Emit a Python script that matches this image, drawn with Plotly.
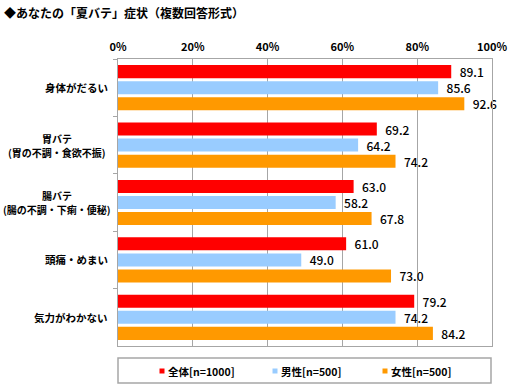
import plotly.graph_objects as go

categories = ["身体がだるい", "胃バテ<br>(胃の不調・食欲不振)", "腸バテ<br>(腸の不調・下痢・便秘)", "頭痛・めまい", "気力がわかない"]
series_names = ["全体[n=1000]", "男性[n=500]", "女性[n=500]"]
all_vals = [89.1, 69.2, 63.0, 61.0, 79.2]
male_vals = [85.6, 64.2, 58.2, 49.0, 74.2]
female_vals = [92.6, 74.2, 67.8, 73.0, 84.2]
colors = ["#FF0000", "#99CCFF", "#FF9900"]
x_ticks = [0, 20, 40, 60, 80, 100]
x_tick_labels = ["0%", "20%", "40%", "60%", "80%", "100%"]

FONT = "Noto Sans CJK JP"
PW, PH = 374, 287  # plot area size in px
L, T = 118, 59

def px_x(x):
    return (x - L) / PW

def px_y(y):
    return (T + PH - y) / PH

fig = go.Figure()
for name, vals, col in zip(series_names, [all_vals, male_vals, female_vals], colors):
    fig.add_trace(go.Bar(
        y=categories, x=vals, name=name, orientation="h",
        marker=dict(color=col, line=dict(width=0)),
        text=[f"{v:.1f}" for v in vals], textposition="outside",
        texttemplate="  %{text}", constraintext="none",
        textfont=dict(family=FONT, size=12, color="#000000", weight=500),
        cliponaxis=False, showlegend=False, hoverinfo="skip",
    ))

# category labels (multi-line labels centered, 14px line spacing)
for c in categories:
    lines = c.split("<br>")
    n = len(lines)
    for i, ln in enumerate(lines):
        # center of each line: first line rightmost anchor is the widest line's right edge
        fig.add_annotation(
            x=px_x(110 - (0 if n == 1 else 0)), xref="paper", y=c, yref="y",
            text="<b>" + ln + "</b>", showarrow=False,
            xanchor="right" if n == 1 else "center",
            yanchor="middle", yshift=(n - 1) * 7 - i * 14,
            font=dict(family=FONT, size=10.5 if n == 1 else 10, color="#000000"),
        ) if n == 1 else fig.add_annotation(
            x=px_x(57), xref="paper", y=c, yref="y",
            text="<b>" + ln + "</b>", showarrow=False,
            xanchor="center", yanchor="middle", yshift=(n - 1) * 7 - i * 14,
            font=dict(family=FONT, size=10, color="#000000"),
        )

fig.add_annotation(
    x=px_x(2), xref="paper", y=px_y(12), yref="paper", text="<b>◆あなたの「夏バテ」症状（複数回答形式）</b>",
    showarrow=False, xanchor="left", yanchor="middle",
    font=dict(family=FONT, size=12, color="#000000"),
)

# manual legend
legend_x = [162, 275, 385]
for name, col, lx in zip(series_names, colors, legend_x):
    fig.add_shape(type="rect", xref="paper", yref="paper",
                  x0=px_x(lx - 2.5), x1=px_x(lx + 2.5), y0=px_y(373.5), y1=px_y(368.5),
                  fillcolor=col, line=dict(width=0))
    fig.add_annotation(
        x=px_x(lx + 4), xref="paper", y=px_y(371), yref="paper", text="<b>" + name + "</b>",
        showarrow=False, xanchor="left", yanchor="middle",
        font=dict(family=FONT, size=10.5, color="#000000"),
    )

fig.add_shape(type="rect", xref="paper", yref="paper",
              x0=px_x(118), x1=px_x(491), y0=px_y(383), y1=px_y(358),
              line=dict(color="#A6A6A6", width=1.5), fillcolor="rgba(0,0,0,0)")

fig.update_layout(
    width=514, height=392,
    margin=dict(l=L, r=514 - L - PW, t=T, b=392 - T - PH, autoexpand=False),
    paper_bgcolor="white", plot_bgcolor="white",
    barmode="group", bargap=0.16, bargroupgap=0.19,
    font=dict(family=FONT, size=11, color="#000000"),
    showlegend=False,
    xaxis=dict(
        side="top", range=[0, 100], tickvals=x_ticks, ticktext=["<b>" + t + "</b>" for t in x_tick_labels],
        showgrid=True, gridcolor="#A6A6A6", gridwidth=1,
        showline=True, linecolor="#A6A6A6", mirror=True,
        ticks="outside", ticklen=3, tickcolor="rgba(0,0,0,0)", zeroline=False,
        tickfont=dict(family=FONT, size=11, color="#000000"),
    ),
    yaxis=dict(
        autorange="reversed", showticklabels=False, ticks="outside", tickson="boundaries",
        ticklen=4, tickcolor="#A6A6A6", showline=True, linecolor="#A6A6A6", mirror=True,
        showgrid=False,
    ),
)

fig.write_html("out.html", config={"displayModeBar": False},
               post_script="document.body.style.margin='0';document.body.style.overflow='hidden';")
